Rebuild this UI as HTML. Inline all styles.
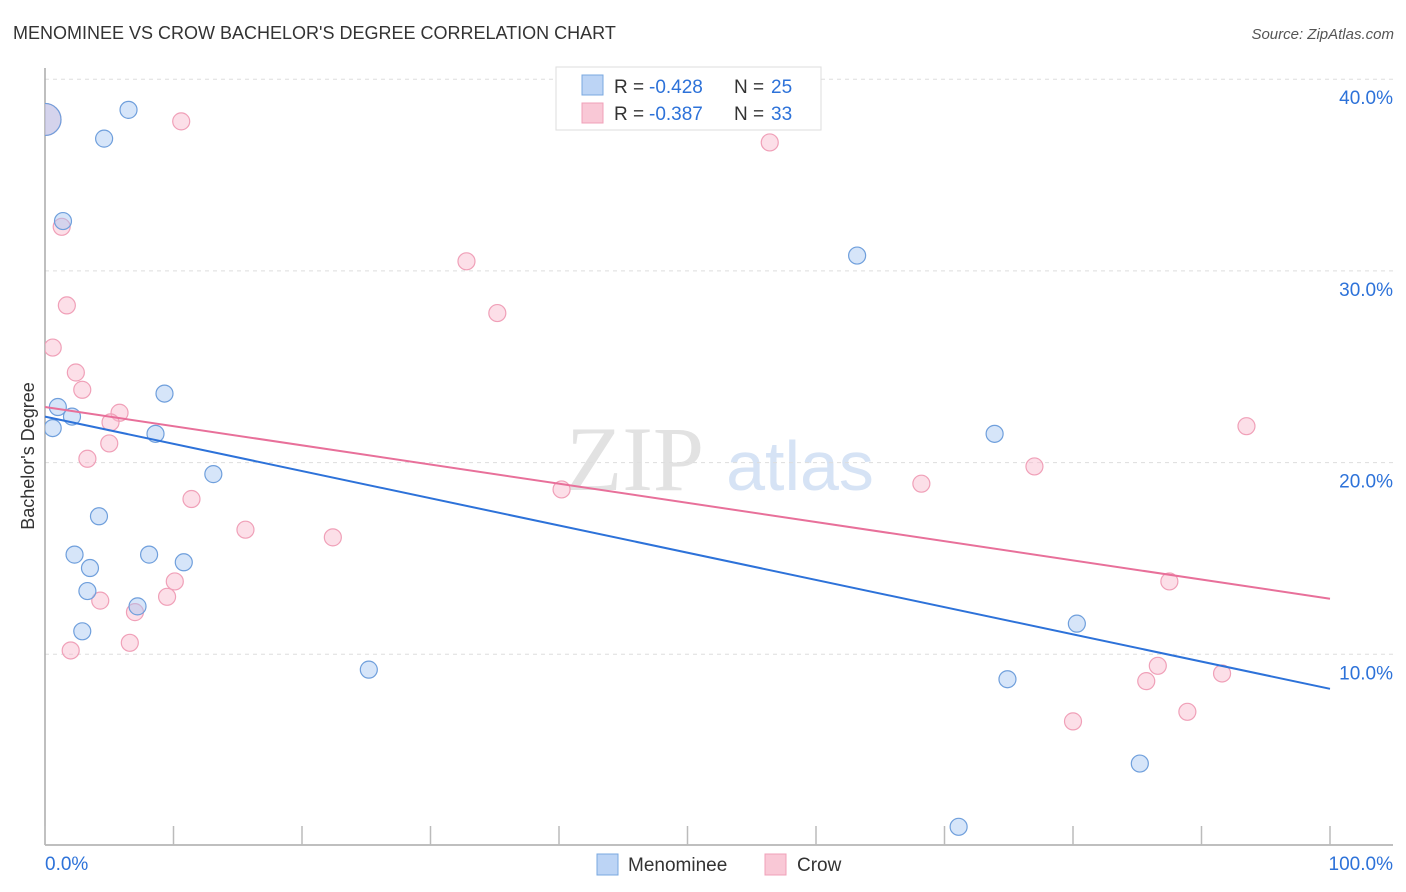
<!DOCTYPE html>
<html><head><meta charset="utf-8"><style>
body{margin:0;background:#fff;font-family:"Liberation Sans",sans-serif;}
svg{display:block}
</style></head><body>
<svg id="c" width="1406" height="892" xmlns="http://www.w3.org/2000/svg">
<text x="13" y="39" font-size="18" fill="#333">MENOMINEE VS CROW BACHELOR'S DEGREE CORRELATION CHART</text>
<text x="1394" y="39" font-size="15" fill="#555" font-style="italic" text-anchor="end">Source: ZipAtlas.com</text>
<g>
<text x="635" y="490" font-size="92" font-family="Liberation Serif,serif" fill="#e2e2e2" text-anchor="middle">ZIP</text>
<text x="800" y="490" font-size="70" fill="#d6e3f5" text-anchor="middle">atlas</text>
</g>
<g id="grid"></g>
<g id="axes"></g>
<text transform="translate(34,456) rotate(-90)" font-size="18" fill="#333" text-anchor="middle">Bachelor's Degree</text>
<g id="pts"></g>
<g id="trend"></g>
<g>
<rect x="556" y="67" width="265" height="63" fill="#fff" stroke="#ddd"/>
<rect x="582" y="75" width="21" height="20" fill="#bcd4f5" stroke="#7aa8e0"/>
<text x="614" y="93" font-size="19" fill="#333">R =</text>
<text x="649" y="93" font-size="19" fill="#2d72d9">-0.428</text>
<text x="734" y="93" font-size="19" fill="#333">N =</text>
<text x="771" y="93" font-size="19" fill="#2d72d9">25</text>
<rect x="582" y="103" width="21" height="20" fill="#f9c8d6" stroke="#f0a0b8"/>
<text x="614" y="120" font-size="19" fill="#333">R =</text>
<text x="649" y="120" font-size="19" fill="#2d72d9">-0.387</text>
<text x="734" y="120" font-size="19" fill="#333">N =</text>
<text x="771" y="120" font-size="19" fill="#2d72d9">33</text>
</g>
<g>
<rect x="597" y="854" width="21" height="21" fill="#bcd4f5" stroke="#7aa8e0"/>
<text x="628" y="871" font-size="19" fill="#333">Menominee</text>
<rect x="765" y="854" width="21" height="21" fill="#f9c8d6" stroke="#f0a0b8"/>
<text x="797" y="871" font-size="19" fill="#333">Crow</text>
</g>
</svg>
<script>
const blueX=[0,6.5,4.6,1.4,63.2,9.3,1.0,2.1,0.6,8.6,73.9,13.1,4.2,2.3,8.1,3.5,10.8,3.3,7.2,2.9,25.2,80.3,74.9,85.2,71.1];
const blueY=[37.9,38.4,36.9,32.6,30.8,23.6,22.9,22.4,21.8,21.5,21.5,19.4,17.2,15.2,15.2,14.5,14.8,13.3,12.5,11.2,9.2,11.6,8.7,4.3,1.0];
const pinkX=[0,10.6,56.4,1.3,32.8,1.7,35.2,0.6,2.4,2.9,5.8,5.1,5.0,3.3,93.5,77.0,68.2,40.2,11.4,15.6,22.4,10.1,87.5,4.3,9.5,7.0,2.0,6.6,86.6,85.7,91.6,80.0,88.9];
const pinkY=[37.9,37.8,36.7,32.3,30.5,28.2,27.8,26.0,24.7,23.8,22.6,22.1,21.0,20.2,21.9,19.8,18.9,18.6,18.1,16.5,16.1,13.8,13.8,12.8,13.0,12.2,10.2,10.6,9.4,8.6,9.0,6.5,7.0];
const blueTrend=[22.4,8.2];
const pinkTrend=[22.9,12.9];
const yTicks=[10,20,30,40];
const yTickLabels=["10.0%","20.0%","30.0%","40.0%"];
const xTicks=[0,10,20,30,40,50,60,70,80,90,100];
const NS="http://www.w3.org/2000/svg";
const sx=v=>45+v*12.85, sy=v=>846-v*19.17;
function mk(t,a,p){const e=document.createElementNS(NS,t);for(const k in a)e.setAttribute(k,a[k]);p.appendChild(e);return e;}
const grid=document.getElementById('grid'),axes=document.getElementById('axes'),pts=document.getElementById('pts'),tr=document.getElementById('trend');
yTicks.forEach((v,i)=>{
 const l=mk('line',{x1:45,x2:1393,y1:sy(v),y2:sy(v),stroke:'#ddd','stroke-dasharray':'4,4'},grid);
 
 
 const t=mk('text',{x:1393,y:sy(v)+25,'font-size':19,fill:'#2d72d9','text-anchor':'end'},axes);
 t.textContent=yTickLabels[i];
 
 
});
mk('line',{x1:45,x2:45,y1:68,y2:845,stroke:'#aaa','stroke-width':1.5},axes);
mk('line',{x1:45,x2:1393,y1:845,y2:845,stroke:'#aaa','stroke-width':1.5},axes);
xTicks.forEach(v=>{const t=mk('line',{x1:sx(v),x2:sx(v),y1:826,y2:845,stroke:'#bbb','stroke-width':1.5},axes);
 
 });
const x0=mk('text',{x:45,y:870,'font-size':19,fill:'#2d72d9'},axes);x0.textContent='0.0%';


const x1=mk('text',{x:1393,y:870,'font-size':19,fill:'#2d72d9','text-anchor':'end'},axes);x1.textContent='100.0%';


mk('clipPath',{id:'cp'},document.getElementById('c'));
mk('rect',{x:45,y:60,width:1360,height:790},document.getElementById('cp'));
pts.setAttribute('clip-path','url(#cp)');
function drawPts(X,Y,fill,stroke,name){
 X.forEach((x,i)=>{const r=(i===0&&x===0)?16:8.5;
  const c=mk('circle',{cx:sx(x),cy:sy(Y[i]),r:r,fill:fill,stroke:stroke,'stroke-width':1.2},pts);
  
  });
}
drawPts(pinkX,pinkY,'rgba(248,185,205,0.45)','#f0a0b8','crow-point');
drawPts(blueX,blueY,'rgba(165,198,242,0.45)','#6f9fdc','menominee-point');
const bl=mk('line',{x1:sx(0),y1:sy(blueTrend[0]),x2:sx(100),y2:sy(blueTrend[1]),stroke:'#2d72d9','stroke-width':2},tr);


const pl=mk('line',{x1:sx(0),y1:sy(pinkTrend[0]),x2:sx(100),y2:sy(pinkTrend[1]),stroke:'#e8709a','stroke-width':2},tr);


</script>
</body></html>
